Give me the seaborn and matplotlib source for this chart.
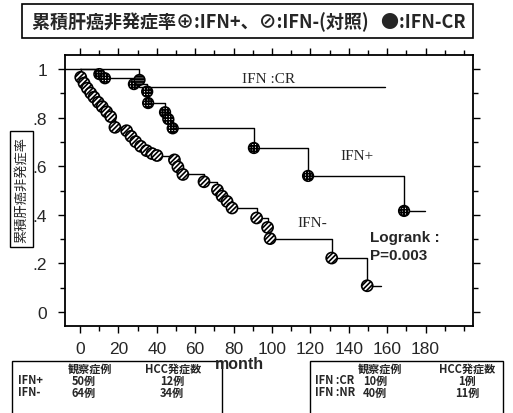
import matplotlib
matplotlib.use('Agg')
import matplotlib.pyplot as plt
from matplotlib import font_manager
from matplotlib.patches import Rectangle
from matplotlib.ticker import MultipleLocator, FixedLocator, FixedFormatter
import seaborn as sns

# ---------------- data ----------------
x_ticks = [0, 20, 40, 60, 80, 100, 120, 140, 160, 180]
y_ticks = [0, 0.2, 0.4, 0.6, 0.8, 1.0]
y_tick_labels = ['0', '.2', '.4', '.6', '.8', '1']

# IFN- (control): event times (months) and survival after each event
ifn_minus_month = [0.4, 2.1, 3.8, 5.6, 7.3, 9.5, 11.6, 13.9, 16.0, 18.2, 24.3,
                   26.6, 29.0, 31.6, 34.7, 37.5, 40.1, 49.2, 51.0, 53.6, 64.6,
                   71.6, 74.0, 76.6, 79.2, 92.0, 97.7, 99.0, 131.1, 149.6]
ifn_minus_surv = [0.966, 0.942, 0.921, 0.901, 0.884, 0.863, 0.845, 0.824, 0.804,
                  0.760, 0.746, 0.723, 0.701, 0.682, 0.664, 0.652, 0.644, 0.626,
                  0.597, 0.566, 0.536, 0.502, 0.477, 0.455, 0.428, 0.387, 0.348,
                  0.302, 0.222, 0.108]
ifn_minus_end = 156.6

# IFN+
ifn_plus_month = [10.1, 13.0, 28.1, 35.0, 35.5, 44.3, 46.0, 48.3, 90.6, 118.8, 168.8]
ifn_plus_surv = [0.979, 0.962, 0.938, 0.907, 0.860, 0.822, 0.794, 0.756, 0.675,
                 0.560, 0.416]
ifn_plus_end = 179.7

# IFN-CR
ifn_cr_start = -7.8
ifn_cr_month = [31.0]
ifn_cr_surv = [0.925]
ifn_cr_marker_surv = [0.955]
ifn_cr_end = 159.0

title_text = '累積肝癌非発症率⊕:IFN+、⊘:IFN-(対照)   ●:IFN-CR'
ylabel_text = '累積肝癌非発症率'
xlabel_text = 'month'

table_header = ['観察症例', 'HCC発症数']
left_rows = ['IFN+', 'IFN-']
left_cases = ['50例', '64例']
left_hcc = ['12例', '34例']
right_rows = ['IFN :CR', 'IFN :NR']
right_cases = ['10例', '40例']
right_hcc = ['1例', '11例']

# ---------------- style ----------------
sns.set_theme(style='ticks')
names = {f.name for f in font_manager.fontManager.ttflist}
narrow = 'Liberation Sans Narrow' if 'Liberation Sans Narrow' in names else 'Liberation Sans'
plt.rcParams['font.family'] = ['DejaVu Sans']
plt.rcParams['hatch.linewidth'] = 1.2
CJK = ['Noto Sans CJK JP', 'DejaVu Sans']

W, H = 513, 414
fig = plt.figure(figsize=(W / 100, H / 100), dpi=100)
fig.patch.set_facecolor('white')


def fx(px):
    return px / W


def fy(py):
    return 1 - py / H


ax = fig.add_axes([fx(65), fy(327), fx(473) - fx(65), fy(56) - fy(327)])
ax.set_facecolor('white')


def steps(start, months, surv, end):
    xs = [start] + list(months) + [end]
    ys = [1.0] + list(surv) + [surv[-1]]
    return xs, ys


for start, m, s, e in [(0.0, ifn_minus_month, ifn_minus_surv, ifn_minus_end),
                       (0.0, ifn_plus_month, ifn_plus_surv, ifn_plus_end),
                       (ifn_cr_start, ifn_cr_month, ifn_cr_surv, ifn_cr_end)]:
    xs, ys = steps(start, m, s, e)
    sns.lineplot(x=xs, y=ys, ax=ax, drawstyle='steps-post', estimator=None,
                 sort=False, color='black', linewidth=1.0)

sns.scatterplot(x=ifn_minus_month, y=ifn_minus_surv, ax=ax, s=64, marker='o',
                color='white', edgecolor='black', linewidth=1.2,
                hatch='///////', zorder=3)
sns.scatterplot(x=ifn_plus_month, y=ifn_plus_surv, ax=ax, s=60, marker='o',
                color='white', edgecolor='black', linewidth=1.1,
                hatch='++++++', zorder=3)
sns.scatterplot(x=ifn_cr_month, y=ifn_cr_marker_surv, ax=ax, s=60, marker='o',
                color='#555555', edgecolor='black', linewidth=1.1,
                hatch='------', zorder=4)

ax.set_xlim(-7.8, 204.7)
ax.set_ylim(-0.0576, 1.0576)
ax.xaxis.set_major_locator(FixedLocator(x_ticks))
ax.xaxis.set_minor_locator(MultipleLocator(10))
ax.yaxis.set_major_locator(FixedLocator(y_ticks))
ax.yaxis.set_major_formatter(FixedFormatter(y_tick_labels))
ax.yaxis.set_minor_locator(MultipleLocator(0.1))
ax.set_xlabel('')
ax.set_ylabel('')
ax.tick_params(which='both', direction='out', top=True, right=True,
               labeltop=False, labelright=False, color='black', width=1.0)
ax.tick_params(which='major', length=5, labelsize=12.5)
ax.tick_params(axis='x', which='major', pad=6)
ax.tick_params(axis='y', which='major', pad=8)
ax.tick_params(which='minor', length=3.5)
for lab in ax.get_xticklabels() + ax.get_yticklabels():
    lab.set_family(narrow)
for sp in ax.spines.values():
    sp.set_linewidth(1.3)
    sp.set_color('black')

# in-plot annotations
ax.text(84.4, 0.959, 'IFN :CR', family='Liberation Serif', fontsize=11,
        ha='left', va='center')
ax.text(135.4, 0.646, 'IFN+', family='Liberation Serif', fontsize=11,
        ha='left', va='center')
ax.text(113.0, 0.370, 'IFN-', family='Liberation Serif', fontsize=11,
        ha='left', va='center')
ax.text(151.0, 0.309, 'Logrank :', family='Liberation Sans', fontsize=11,
        fontweight='bold', ha='left', va='center')
ax.text(151.0, 0.235, 'P=0.003', family='Liberation Sans', fontsize=11,
        fontweight='bold', ha='left', va='center')

# title box
fig.patches.append(Rectangle((fx(22), fy(39)), fx(473) - fx(22), fy(5) - fy(39),
                             transform=fig.transFigure, fill=False,
                             edgecolor='black', linewidth=1.2))
fig.text(fx(32), fy(22.5), title_text, family=CJK, fontsize=13,
         fontweight='bold', ha='left', va='center')

# y label box
fig.patches.append(Rectangle((fx(10), fy(248)), fx(33) - fx(10), fy(132) - fy(248),
                             transform=fig.transFigure, fill=False,
                             edgecolor='black', linewidth=1.0))
fig.text(fx(21.5), fy(190), ylabel_text, family=CJK, fontsize=9.5,
         rotation=90, ha='center', va='center')

# x label
fig.text(fx(239), fy(365), xlabel_text, family='Liberation Sans', fontsize=11.5,
         fontweight='bold', ha='center', va='center')

# tables
for (x0, x1) in [(12, 222), (310, 503)]:
    fig.patches.append(Rectangle((fx(x0), fy(420)), fx(x1) - fx(x0), fy(362) - fy(420),
                                 transform=fig.transFigure, fill=False,
                                 edgecolor='black', linewidth=1.0))

row_y = [381, 393]
fs_tab = 8
fig.text(fx(90), fy(369), table_header[0], family=CJK, fontsize=fs_tab,
         fontweight='bold', ha='center', va='center')
fig.text(fx(173), fy(369), table_header[1], family=CJK, fontsize=fs_tab,
         fontweight='bold', ha='center', va='center')
for i, y in enumerate(row_y):
    fig.text(fx(18), fy(y), left_rows[i], family=CJK, fontsize=fs_tab,
             fontweight='bold', ha='left', va='center')
    fig.text(fx(72), fy(y), left_cases[i], family=CJK, fontsize=fs_tab,
             fontweight='bold', ha='left', va='center')
    fig.text(fx(172), fy(y), left_hcc[i], family=CJK, fontsize=fs_tab,
             fontweight='bold', ha='center', va='center')

fig.text(fx(380), fy(369), table_header[0], family=CJK, fontsize=fs_tab,
         fontweight='bold', ha='center', va='center')
fig.text(fx(467), fy(369), table_header[1], family=CJK, fontsize=fs_tab,
         fontweight='bold', ha='center', va='center')
for i, y in enumerate(row_y):
    fig.text(fx(315), fy(y), right_rows[i], family=CJK, fontsize=fs_tab,
             fontweight='bold', ha='left', va='center')
    fig.text(fx(363), fy(y), right_cases[i], family=CJK, fontsize=fs_tab,
             fontweight='bold', ha='left', va='center')
    fig.text(fx(467), fy(y), right_hcc[i], family=CJK, fontsize=fs_tab,
             fontweight='bold', ha='center', va='center')

fig.savefig('out.png', dpi=100, facecolor='white')
